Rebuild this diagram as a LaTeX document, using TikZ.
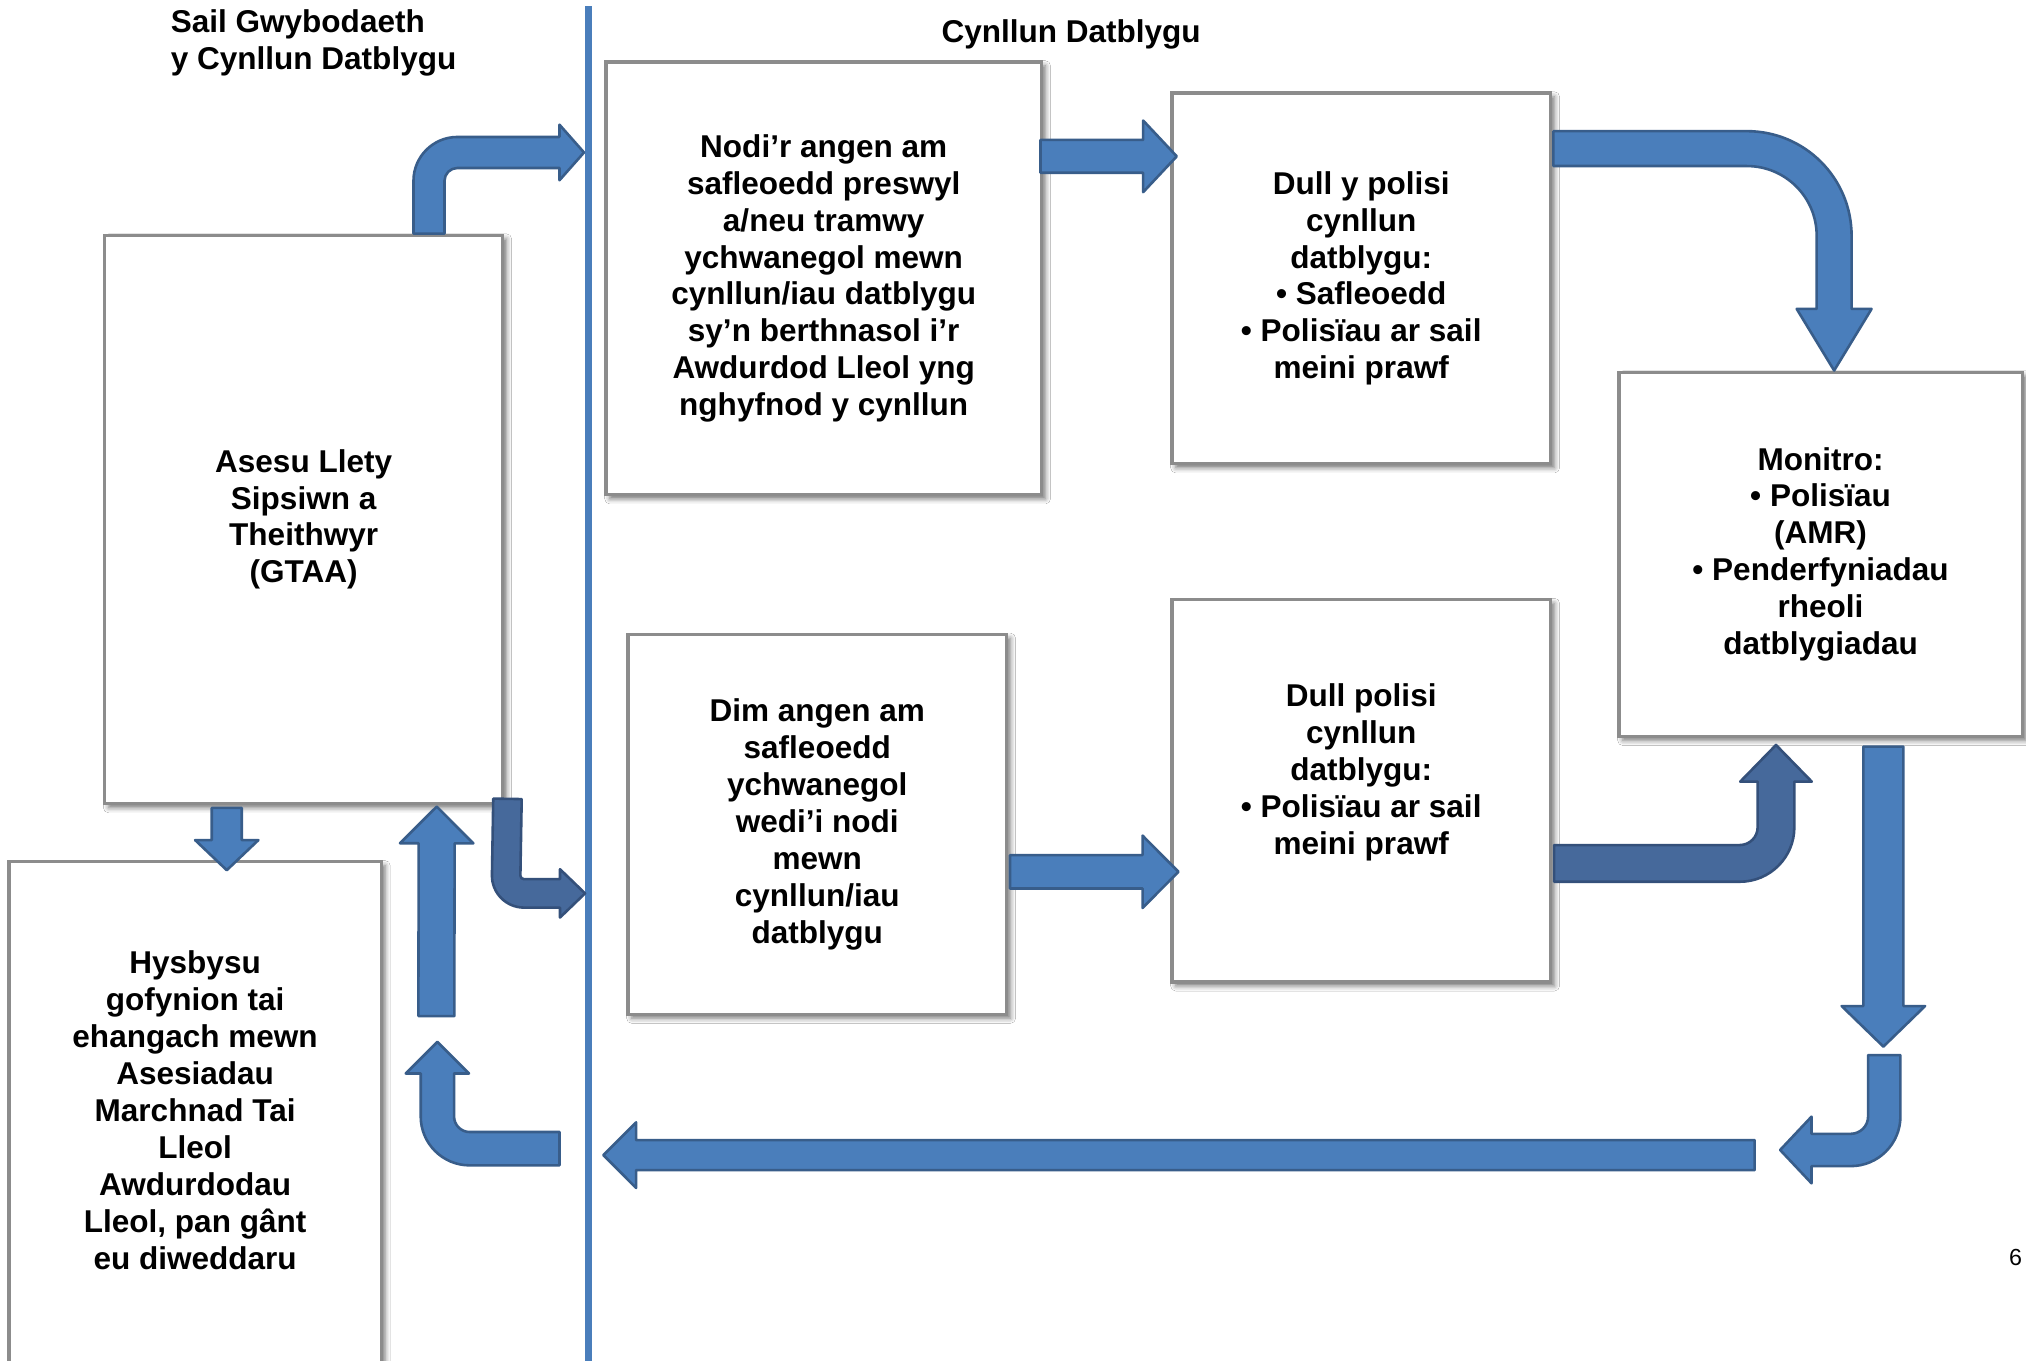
\documentclass[tikz,border=0pt]{standalone}
\usepackage{fontspec}
\setmainfont{Liberation Sans}
\usetikzlibrary{calc,shadows.blur}

\definecolor{arrowfill}{HTML}{4A7EBB}
\definecolor{arrowline}{HTML}{385D8A}
\definecolor{darkfill}{HTML}{46699B}
\definecolor{darkline}{HTML}{34507A}
\definecolor{boxline}{HTML}{8C8C8C}

\tikzstyle{box}=[draw=boxline, line width=2.5pt, fill=white, align=center, inner sep=0pt,
  font=\bfseries\fontsize{24.4}{28.6}\selectfont,
  execute at begin node={\rule{0pt}{25pt}}, execute at end node={\rule[-5.2pt]{0pt}{0pt}},
  blur shadow={shadow xshift=3pt, shadow yshift=-3pt, shadow blur radius=4pt, shadow opacity=55}]
\tikzstyle{heading}=[font=\bfseries\fontsize{24.4}{28.6}\selectfont, inner sep=0pt]
\tikzstyle{barrow}=[draw=arrowline, fill=arrowfill, line width=2pt, line join=round]
\tikzstyle{darkarrow}=[draw=darkline, fill=darkfill]
\tikzstyle{divider}=[draw=arrowfill, line width=5.5pt]

% straight block arrow: tail, tip, shaft half width, head half width, head length
\newcommand{\blockarrow}[6][]{%
  \draw[barrow,#1] let \p1=(#2), \p2=(#3), \n1={veclen(\x2-\x1,\y2-\y1)},
      \n2={(\x2-\x1)/\n1}, \n3={(\y2-\y1)/\n1}
    in ({\x1-#4*(\n3)},{\y1+#4*(\n2)})
    -- ({\x2-#6*(\n2)-#4*(\n3)},{\y2-#6*(\n3)+#4*(\n2)})
    -- ({\x2-#6*(\n2)-#5*(\n3)},{\y2-#6*(\n3)+#5*(\n2)})
    -- (\p2)
    -- ({\x2-#6*(\n2)+#5*(\n3)},{\y2-#6*(\n3)-#5*(\n2)})
    -- ({\x2-#6*(\n2)+#4*(\n3)},{\y2-#6*(\n3)-#4*(\n2)})
    -- ({\x1+#4*(\n3)},{\y1-#4*(\n2)}) -- cycle;}

% bent block arrow: tail, bend, tip, shaft half width, head half width, head length, bend radius
\newcommand{\bentarrow}[8][]{%
  \draw[barrow,#1] let \p1=(#2), \p2=(#3), \p3=(#4),
      \n1={veclen(\x2-\x1,\y2-\y1)}, \n2={veclen(\x3-\x2,\y3-\y2)},
      \n3={(\x2-\x1)/\n1}, \n4={(\y2-\y1)/\n1},
      \n5={(\x3-\x2)/\n2}, \n6={(\y3-\y2)/\n2},
      \n7={0.5523*(#8-((\n3)*(\n6)-(\n4)*(\n5))*#5)},
      \n8={0.5523*(#8+((\n3)*(\n6)-(\n4)*(\n5))*#5)}
    in ({\x1-#5*(\n4)},{\y1+#5*(\n3)})
    -- ({\x2-#8*(\n3)-#5*(\n4)},{\y2-#8*(\n4)+#5*(\n3)})
    .. controls +({\n7*(\n3)},{\n7*(\n4)}) and +({-\n7*(\n5)},{-\n7*(\n6)}) ..
       ({\x2+#8*(\n5)-#5*(\n6)},{\y2+#8*(\n6)+#5*(\n5)})
    -- ({\x3-#7*(\n5)-#5*(\n6)},{\y3-#7*(\n6)+#5*(\n5)})
    -- ({\x3-#7*(\n5)-#6*(\n6)},{\y3-#7*(\n6)+#6*(\n5)})
    -- (\p3)
    -- ({\x3-#7*(\n5)+#6*(\n6)},{\y3-#7*(\n6)-#6*(\n5)})
    -- ({\x3-#7*(\n5)+#5*(\n6)},{\y3-#7*(\n6)-#5*(\n5)})
    -- ({\x2+#8*(\n5)+#5*(\n6)},{\y2+#8*(\n6)-#5*(\n5)})
    .. controls +({-\n8*(\n5)},{-\n8*(\n6)}) and +({\n8*(\n3)},{\n8*(\n4)}) ..
       ({\x2-#8*(\n3)+#5*(\n4)},{\y2-#8*(\n4)-#5*(\n3)})
    -- ({\x1+#5*(\n4)},{\y1-#5*(\n3)}) -- cycle;}

\begin{document}
\begin{tikzpicture}[x=1pt, y=-1pt]
  \useasboundingbox (0,0) rectangle (1568,1053);
  \clip (0,0) rectangle (1568,1053);
  \fill[white] (0,0) rectangle (1568,1053);

  % left column | development plan
  \coordinate (dtop) at (455.5,5);
  \coordinate (dbot) at (455.5,1060);
  \draw[divider] (dtop) -- (dbot);

  \node[heading, anchor=north west, align=left] (kbase) at (132,7) {Sail Gwybodaeth\\y Cynllun Datblygu};
  \node[heading] (plan) at (829,26.5) {Cynllun Datblygu};

  \node[box, minimum width=308pt, minimum height=440pt] (gtaa) at (235,402)
    {Asesu Llety\\Sipsiwn a\\Theithwyr\\(GTAA)};
  \node[box, minimum width=288pt, minimum height=389pt] (hysb) at (151,861.5)
    {Hysbysu\\gofynion tai\\ehangach mewn\\Asesiadau\\Marchnad Tai\\Lleol\\Awdurdodau\\Lleol, pan gânt\\eu diweddaru};
  \node[box, minimum width=337pt, minimum height=335pt] (nodi) at (637.5,215.5)
    {Nodi’r angen am\\safleoedd preswyl\\a/neu tramwy\\ychwanegol mewn\\cynllun/iau datblygu\\sy’n berthnasol i’r\\Awdurdod Lleol yng\\nghyfnod y cynllun};
  \node[box, minimum width=293pt, minimum height=287pt] (dullA) at (1053.5,215.5)
    {Dull y polisi\\cynllun\\datblygu:\\• Safleoedd\\• Polisïau ar sail\\meini prawf};
  \node[box, minimum width=312pt, minimum height=282pt] (monitro) at (1409,429)
    {Monitro:\\• Polisïau\\(AMR)\\• Penderfyniadau\\rheoli\\datblygiadau};
  \node[box, minimum width=293pt, minimum height=294pt] (dim) at (632.5,638)
    {Dim angen am\\safleoedd\\ychwanegol\\wedi’i nodi\\mewn\\cynllun/iau\\datblygu};
  \node[box, minimum width=293pt, minimum height=296pt] (dullB) at (1053.5,612)
    {Dull polisi\\cynllun\\datblygu:\\• Polisïau ar sail\\meini prawf\\~};

  \node[font=\fontsize{18}{20}\selectfont, inner sep=0pt] (page) at (1560,973) {6};

  % arrows
  \coordinate (k1) at (332,118);
  \coordinate (d1) at (452,118);
  \bentarrow{$(gtaa.north)+(97,0)$}{k1}{d1}{12}{21.5}{19}{22}

  \blockarrow{$(nodi.east)+(-2,-94.5)$}{$(dullA.west)+(5,-94.5)$}{12.7}{27.7}{26}

  \coordinate (k3) at (1419.5,115);
  \bentarrow{$(dullA.east)+(1,-100.5)$}{k3}{$(monitro.north)+(10.5,0)$}{13.5}{29}{47.7}{67.5}

  \coordinate (k4) at (391.5,691.4);
  \coordinate (d4) at (452.8,691.4);
  \bentarrow[darkarrow]{$(gtaa.south east)+(2.5,-5)$}{k4}{d4}{11}{18.7}{19.4}{14}

  \blockarrow{$(dim.east)+(1.4,36.7)$}{$(dullB.west)+(6.3,62.7)$}{12.9}{28}{27.8}

  \coordinate (k6) at (1374.5,668.2);
  \bentarrow[darkarrow]{$(dullB.east)+(1.5,56.2)$}{k6}{$(monitro.south)+(-34.5,5.3)$}{14.2}{27.7}{28.4}{28}

  \coordinate (c7) at (1457.6,810);
  \blockarrow{$(monitro.south)+(48.6,6.6)$}{c7}{15.5}{32.3}{31.4}

  \coordinate (c8) at (1458.3,816.6);
  \coordinate (k8) at (1458.3,890);
  \coordinate (d8) at (1377.7,890);
  \bentarrow{c8}{k8}{d8}{12.5}{25.8}{24.3}{26}

  \coordinate (c9) at (1358,894);
  \coordinate (d9) at (467,894);
  \blockarrow{c9}{d9}{11.6}{25.4}{25.3}

  \coordinate (c10) at (433,889);
  \coordinate (k10) at (338.5,889);
  \coordinate (d10) at (338.5,806.3);
  \bentarrow{c10}{k10}{d10}{12.9}{24.5}{24.5}{25}

  \coordinate (c11) at (337.7,786.4);
  \blockarrow{c11}{$(gtaa.south)+(103,1)$}{13.9}{28.4}{28.4}

  \blockarrow{$(gtaa.south)+(-59.5,2)$}{$(hysb.north)+(24.5,7.7)$}{11.6}{24.5}{23.3}
\end{tikzpicture}
\end{document}
